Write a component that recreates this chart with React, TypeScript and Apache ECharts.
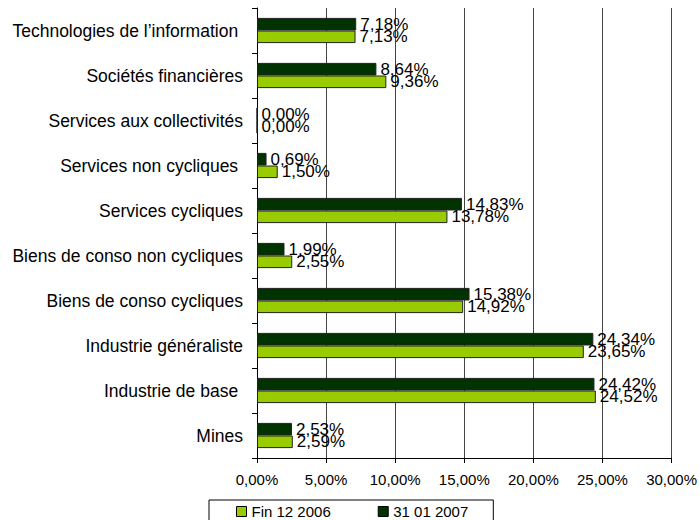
import React, { useEffect, useRef } from "react";
import * as echarts from "echarts";

const categories = [
  "Mines",
  "Industrie de base ",
  "Industrie généraliste",
  "Biens de conso cycliques",
  "Biens de conso non cycliques",
  "Services cycliques",
  "Services non cycliques ",
  "Services aux collectivités",
  "Sociétés financières",
  "Technologies de l’information ",
];
const fin2006 = [2.59, 24.52, 23.65, 14.92, 2.55, 13.78, 1.5, 0.0, 9.36, 7.13];
const jan2007 = [2.53, 24.42, 24.34, 15.38, 1.99, 14.83, 0.69, 0.0, 8.64, 7.18];
const seriesNames = ["Fin 12 2006", "31 01 2007"];
const colors = ["#99CC00", "#003300"];

const fmt = (v: number) => v.toFixed(2).replace(".", ",") + "%";

export default function App() {
  const ref = useRef<HTMLDivElement>(null);
  useEffect(() => {
    if (!ref.current) return;
    const chart = echarts.init(ref.current, null, { renderer: "svg" });
    const font = "Liberation Sans, Arial, sans-serif";
    const mk = (name: string, data: number[], color: string) => ({
      name,
      type: "bar",
      data,
      barGap: "0%",
      barCategoryGap: "44%",
      itemStyle: { color, borderColor: "#222", borderWidth: 1 },
      label: {
        show: true,
        position: "right",
        distance: 4,
        formatter: (p: any) => fmt(p.value),
        color: "#000",
        fontSize: 17,
        fontFamily: font,
      },
    });
    chart.setOption({
      animation: false,
      textStyle: { fontFamily: font },
      grid: { left: 257, right: 25, top: 8, bottom: 62, containLabel: false },
      legend: {
        top: 500,
        left: 209,
        itemGap: 47,
        icon: "rect",
        itemWidth: 10,
        itemHeight: 10,
        padding: [4, 25, 12, 27],
        borderColor: "#000",
        borderWidth: 1,
        borderRadius: 0,
        textStyle: { fontSize: 15, color: "#000", fontFamily: font },
        itemStyle: { borderColor: "#000", borderWidth: 1 },
        data: seriesNames,
      },
      xAxis: {
        type: "value",
        min: 0,
        max: 30,
        interval: 5,
        axisLine: { show: true, lineStyle: { color: "#000" } },
        axisTick: { show: true, length: 5, lineStyle: { color: "#000" } },
        axisLabel: {
          formatter: (v: number) => fmt(v),
          color: "#000",
          fontSize: 15,
          margin: 14,
          fontFamily: font,
        },
        splitLine: { show: true, lineStyle: { color: "#444", width: 1 } },
      },
      yAxis: {
        type: "category",
        data: categories,
        axisLine: { show: true, lineStyle: { color: "#000" } },
        axisTick: { show: true, length: 5, inside: false, lineStyle: { color: "#000" } },
        axisLabel: { color: "#000", fontSize: 17.5, margin: 14, fontFamily: font },
        splitLine: { show: false },
      },
      series: [mk(seriesNames[1], jan2007, colors[1]), mk(seriesNames[0], fin2006, colors[0])],
    });
    return () => chart.dispose();
  }, []);
  return <div ref={ref} style={{ width: 700, height: 520, position: "absolute", left: 0, top: 0 }} />;
}
